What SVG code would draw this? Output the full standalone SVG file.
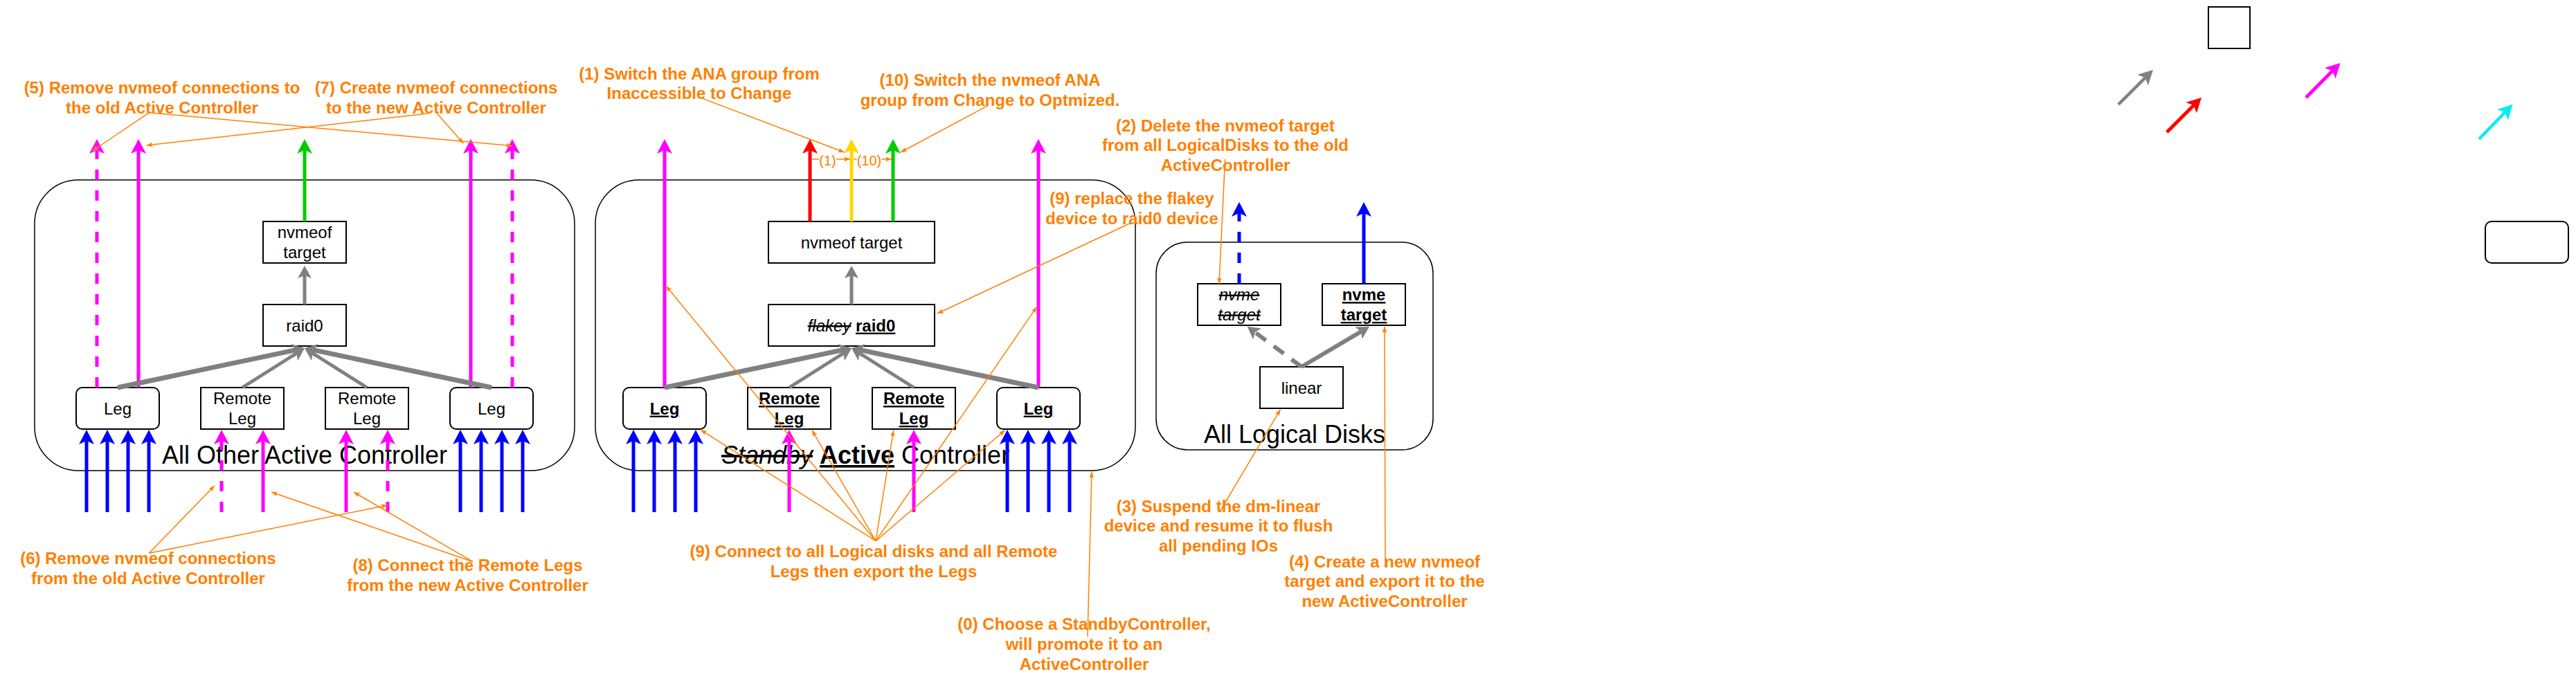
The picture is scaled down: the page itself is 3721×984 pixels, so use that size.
<svg xmlns="http://www.w3.org/2000/svg" width="3721" height="984" viewBox="0 0 3721 984">
<style>
text{font-family:"Liberation Sans",Arial,Helvetica,sans-serif}
.box{fill:#fff;stroke:#000;stroke-width:2}
.cont{fill:#fff;stroke:#000;stroke-width:1.5}
.lbl{font-size:24px;fill:#000;text-anchor:middle}
.big{font-size:36px;fill:#000;text-anchor:middle}
.ann{font-size:24px;font-weight:bold;fill:#FF8000;text-anchor:middle}
.sm{font-size:20px;fill:#FF8000;text-anchor:middle}
.b{font-weight:bold;text-decoration:underline}
.s{font-style:italic;text-decoration:line-through}
.e{fill:none;stroke-linecap:butt}
.blue{stroke:#0000FF;stroke-width:5;marker-end:url(#mBlue)}
.mag{stroke:#FF00FF;stroke-width:5;marker-end:url(#mMag)}
.red{stroke:#FF0000;stroke-width:5;marker-end:url(#mRed)}
.yel{stroke:#FFD700;stroke-width:5;marker-end:url(#mYel)}
.grn{stroke:#00CC00;stroke-width:5;marker-end:url(#mGrn)}
.cyn{stroke:#00EEEE;stroke-width:4.5;marker-end:url(#mCyn)}
.gl{stroke:#808080;stroke-width:4.5;marker-end:url(#mGl)}
.dash{stroke-dasharray:15 15}
.grey{stroke:#808080;marker-end:url(#mGrey)}
.or{stroke:#FF8000;stroke-width:1.5;marker-end:url(#mOr)}
</style>
<defs>
<marker id="mBlue" viewBox="0 0 21 22" refX="5" refY="11" markerWidth="21" markerHeight="22" markerUnits="userSpaceOnUse" orient="auto"><path d="M0,0 L21,11 L0,22 L5,11 Z" fill="#0000FF"/></marker>
<marker id="mMag" viewBox="0 0 21 22" refX="5" refY="11" markerWidth="21" markerHeight="22" markerUnits="userSpaceOnUse" orient="auto"><path d="M0,0 L21,11 L0,22 L5,11 Z" fill="#FF00FF"/></marker>
<marker id="mRed" viewBox="0 0 21 22" refX="5" refY="11" markerWidth="21" markerHeight="22" markerUnits="userSpaceOnUse" orient="auto"><path d="M0,0 L21,11 L0,22 L5,11 Z" fill="#FF0000"/></marker>
<marker id="mYel" viewBox="0 0 21 22" refX="5" refY="11" markerWidth="21" markerHeight="22" markerUnits="userSpaceOnUse" orient="auto"><path d="M0,0 L21,11 L0,22 L5,11 Z" fill="#FFD700"/></marker>
<marker id="mGrn" viewBox="0 0 21 22" refX="5" refY="11" markerWidth="21" markerHeight="22" markerUnits="userSpaceOnUse" orient="auto"><path d="M0,0 L21,11 L0,22 L5,11 Z" fill="#00CC00"/></marker>
<marker id="mCyn" viewBox="0 0 21 22" refX="5" refY="11" markerWidth="21" markerHeight="22" markerUnits="userSpaceOnUse" orient="auto"><path d="M0,0 L21,11 L0,22 L5,11 Z" fill="#00EEEE"/></marker>
<marker id="mGl" viewBox="0 0 21 22" refX="5" refY="11" markerWidth="21" markerHeight="22" markerUnits="userSpaceOnUse" orient="auto"><path d="M0,0 L21,11 L0,22 L5,11 Z" fill="#808080"/></marker>
<marker id="mGrey" viewBox="0 0 18 20" refX="4" refY="10" markerWidth="18" markerHeight="20" markerUnits="userSpaceOnUse" orient="auto"><path d="M0,0 L18,10 L0,20 L4,10 Z" fill="#808080"/></marker>
<marker id="mOr" viewBox="0 0 9 7" refX="9" refY="3.5" markerWidth="9" markerHeight="7" markerUnits="userSpaceOnUse" orient="auto"><path d="M0,0 L9,3.5 L0,7 L2,3.5 Z" fill="#FF8000"/></marker>
</defs>
<rect x="0" y="0" width="3721" height="984" fill="#fff"/>

<g id="container-other-active">
<rect class="cont" x="50" y="260" width="780" height="420" rx="63" ry="63"/>
<text class="big" x="440" y="670">All Other Active Controller</text>
</g>
<g id="container-standby-active">
<rect class="cont" x="860" y="260" width="780" height="420" rx="63" ry="63"/>
<text class="big" x="1250" y="670"><tspan class="s">Standby</tspan> <tspan class="b">Active</tspan> Controller</text>
</g>
<g id="container-logical-disks">
<rect class="cont" x="1670" y="350" width="400" height="300" rx="45" ry="45"/>
<text class="big" x="1870" y="639.6">All Logical Disks</text>
</g>

<g id="l-target"><rect class="box" x="380" y="320" width="120" height="60"/><text class="lbl" x="440" y="344.2">nvmeof<tspan x="440" y="373">target</tspan></text></g>
<g id="l-raid0"><rect class="box" x="380" y="440" width="120" height="60"/><text class="lbl" x="440" y="478.6">raid0</text></g>
<g id="l-leg1"><rect class="box" x="110" y="560" width="120" height="60" rx="9"/><text class="lbl" x="170" y="598.6">Leg</text></g>
<g id="l-rleg1"><rect class="box" x="290" y="560" width="120" height="60"/><text class="lbl" x="350" y="584.2">Remote<tspan x="350" y="613">Leg</tspan></text></g>
<g id="l-rleg2"><rect class="box" x="470" y="560" width="120" height="60"/><text class="lbl" x="530" y="584.2">Remote<tspan x="530" y="613">Leg</tspan></text></g>
<g id="l-leg2"><rect class="box" x="650" y="560" width="120" height="60" rx="9"/><text class="lbl" x="710" y="598.6">Leg</text></g>

<g id="m-target"><rect class="box" x="1110" y="320" width="240" height="60"/><text class="lbl" x="1230" y="358.6">nvmeof target</text></g>
<g id="m-raid0"><rect class="box" x="1110" y="440" width="240" height="60"/><text class="lbl" x="1230" y="478.6"><tspan class="s">flakey</tspan> <tspan class="b">raid0</tspan></text></g>
<g id="m-leg1"><rect class="box" x="900" y="560" width="120" height="60" rx="9"/><text class="lbl" x="960" y="598.6"><tspan class="b">Leg</tspan></text></g>
<g id="m-rleg1"><rect class="box" x="1080" y="560" width="120" height="60"/><text class="lbl" x="1140" y="584.2"><tspan class="b">Remote</tspan><tspan class="b" x="1140" y="613">Leg</tspan></text></g>
<g id="m-rleg2"><rect class="box" x="1260" y="560" width="120" height="60"/><text class="lbl" x="1320" y="584.2"><tspan class="b">Remote</tspan><tspan class="b" x="1320" y="613">Leg</tspan></text></g>
<g id="m-leg2"><rect class="box" x="1440" y="560" width="120" height="60" rx="9"/><text class="lbl" x="1500" y="598.6"><tspan class="b">Leg</tspan></text></g>

<g id="d-old-target"><rect class="box" x="1730" y="410" width="120" height="60"/><text class="lbl" x="1790" y="434.2"><tspan class="s">nvme</tspan><tspan class="s" x="1790" y="463">target</tspan></text></g>
<g id="d-new-target"><rect class="box" x="1910" y="410" width="120" height="60"/><text class="lbl" x="1970" y="434.2"><tspan class="b">nvme</tspan><tspan class="b" x="1970" y="463">target</tspan></text></g>
<g id="d-linear"><rect class="box" x="1820" y="530" width="120" height="60"/><text class="lbl" x="1880" y="568.6">linear</text></g>

<g id="loose-square"><rect class="box" x="3190" y="10" width="60" height="60"/></g>
<g id="loose-rounded"><rect class="box" x="3590" y="320" width="120" height="60" rx="9"/></g>

<g id="note-5"><text class="ann" x="234" y="135.3">(5) Remove nvmeof connections to<tspan x="234" y="164">the old Active Controller</tspan></text></g>
<g id="note-7"><text class="ann" x="630" y="135.3">(7) Create nvmeof connections<tspan x="630" y="164">to the new Active Controller</tspan></text></g>
<g id="note-1"><text class="ann" x="1010" y="114.6">(1) Switch the ANA group from<tspan x="1010" y="143.4">Inaccessible to Change</tspan></text></g>
<g id="note-10"><text class="ann" x="1430" y="124.4">(10) Switch the nvmeof ANA<tspan x="1430" y="153.2">group from Change to Optmized.</tspan></text></g>
<g id="note-2"><text class="ann" x="1770" y="189.6">(2) Delete the nvmeof target<tspan x="1770" y="218.4">from all LogicalDisks to the old</tspan><tspan x="1770" y="247.2">ActiveController</tspan></text></g>
<g id="note-9r"><text class="ann" x="1635" y="295.3">(9) replace the flakey<tspan x="1635" y="324.1">device to raid0 device</tspan></text></g>
<g id="note-6"><text class="ann" x="214" y="815.3">(6) Remove nvmeof connections<tspan x="214" y="844.1">from the old Active Controller</tspan></text></g>
<g id="note-8"><text class="ann" x="675.5" y="825.3">(8) Connect the Remote Legs<tspan x="675.5" y="854.1">from the new Active Controller</tspan></text></g>
<g id="note-9c"><text class="ann" x="1262" y="805.3">(9) Connect to all Logical disks and all Remote<tspan x="1262" y="834.1">Legs then export the Legs</tspan></text></g>
<g id="note-3"><text class="ann" x="1760" y="739.6">(3) Suspend the dm-linear<tspan x="1760" y="768.4">device and resume it to flush</tspan><tspan x="1760" y="797.2">all pending IOs</tspan></text></g>
<g id="note-4"><text class="ann" x="2000" y="819.6">(4) Create a new nvmeof<tspan x="2000" y="848.4">target and export it to the</tspan><tspan x="2000" y="877.2">new ActiveController</tspan></text></g>
<g id="note-0"><text class="ann" x="1566" y="910.3">(0) Choose a StandbyController,<tspan x="1566" y="939.1">will promote it to an</tspan><tspan x="1566" y="967.9">ActiveController</tspan></text></g>

<g id="connectors">
<!-- left container -->
<line class="e blue" x1="125" y1="740" x2="125" y2="637"/>
<line class="e blue" x1="155" y1="740" x2="155" y2="637"/>
<line class="e blue" x1="185" y1="740" x2="185" y2="637"/>
<line class="e blue" x1="215" y1="740" x2="215" y2="637"/>
<line class="e blue" x1="665" y1="740" x2="665" y2="637"/>
<line class="e blue" x1="695" y1="740" x2="695" y2="637"/>
<line class="e blue" x1="725" y1="740" x2="725" y2="637"/>
<line class="e blue" x1="755" y1="740" x2="755" y2="637"/>
<line class="e mag dash" x1="320" y1="740" x2="320" y2="637"/>
<line class="e mag" x1="380" y1="740" x2="380" y2="637"/>
<line class="e mag" x1="500" y1="740" x2="500" y2="637"/>
<line class="e mag dash" x1="560" y1="740" x2="560" y2="637"/>
<line class="e mag dash" x1="140" y1="560" x2="140" y2="217"/>
<line class="e mag" x1="200" y1="560" x2="200" y2="217"/>
<line class="e mag" x1="680" y1="560" x2="680" y2="217"/>
<line class="e mag dash" x1="740" y1="560" x2="740" y2="217"/>
<line class="e grn" x1="440" y1="320" x2="440" y2="217"/>
<line class="e grey" stroke-width="5" x1="440" y1="440" x2="440" y2="398"/>
<line class="e grey" stroke-width="7" x1="170" y1="560" x2="426.3" y2="505.9"/>
<line class="e grey" stroke-width="5" x1="350" y1="560" x2="428.2" y2="510.5"/>
<line class="e grey" stroke-width="5" x1="530" y1="560" x2="451.8" y2="510.5"/>
<line class="e grey" stroke-width="7" x1="710" y1="560" x2="453.7" y2="505.9"/>
<!-- middle container -->
<line class="e blue" x1="915" y1="740" x2="915" y2="637"/>
<line class="e blue" x1="945" y1="740" x2="945" y2="637"/>
<line class="e blue" x1="975" y1="740" x2="975" y2="637"/>
<line class="e blue" x1="1005" y1="740" x2="1005" y2="637"/>
<line class="e blue" x1="1455" y1="740" x2="1455" y2="637"/>
<line class="e blue" x1="1485" y1="740" x2="1485" y2="637"/>
<line class="e blue" x1="1515" y1="740" x2="1515" y2="637"/>
<line class="e blue" x1="1545" y1="740" x2="1545" y2="637"/>
<line class="e mag" x1="1140" y1="740" x2="1140" y2="637"/>
<line class="e mag" x1="1320" y1="740" x2="1320" y2="637"/>
<line class="e mag" x1="960" y1="560" x2="960" y2="217"/>
<line class="e mag" x1="1500" y1="560" x2="1500" y2="217"/>
<line class="e red" x1="1170" y1="320" x2="1170" y2="217"/>
<line class="e yel" x1="1230" y1="320" x2="1230" y2="217"/>
<line class="e grn" x1="1290" y1="320" x2="1290" y2="217"/>
<line class="e grey" stroke-width="5" x1="1230" y1="440" x2="1230" y2="398"/>
<line class="e grey" stroke-width="7" x1="960" y1="560" x2="1216.3" y2="505.9"/>
<line class="e grey" stroke-width="5" x1="1140" y1="560" x2="1218.2" y2="510.5"/>
<line class="e grey" stroke-width="5" x1="1320" y1="560" x2="1241.8" y2="510.5"/>
<line class="e grey" stroke-width="7" x1="1500" y1="560" x2="1243.7" y2="505.9"/>
<!-- logical disks -->
<line class="e blue dash" x1="1790" y1="410" x2="1790" y2="308"/>
<line class="e blue" x1="1970" y1="410" x2="1970" y2="308"/>
<line class="e grey" stroke-width="6" stroke-dasharray="18 14" x1="1880" y1="530" x2="1812.9" y2="480.1"/>
<line class="e grey" stroke-width="6" x1="1880" y1="530" x2="1966" y2="479.2"/>
<!-- loose arrows -->
<line class="e gl" x1="3060" y1="151" x2="3098.7" y2="112.3"/>
<line class="e red" stroke-width="4.5" x1="3130" y1="191" x2="3168.7" y2="152.3"/>
<line class="e mag" stroke-width="4.5" x1="3331" y1="141" x2="3369.3" y2="102.3"/>
<line class="e cyn" x1="3581" y1="201" x2="3618.4" y2="162.3"/>
<!-- small labelled arrows -->
<line class="e or" x1="1173" y1="230" x2="1228" y2="230"/>
<line class="e or" x1="1233" y1="230" x2="1288" y2="230"/>
<rect x="1183" y="221" width="25" height="23" fill="#fff"/>
<text class="sm" x="1195.5" y="239">(1)</text>
<rect x="1237.5" y="221" width="36" height="23" fill="#fff"/>
<text class="sm" x="1255.5" y="239">(10)</text>
<!-- annotation arrows -->
<line class="e or" x1="215.7" y1="162.7" x2="133.5" y2="218"/>
<line class="e or" x1="215.7" y1="162.7" x2="740" y2="210.7"/>
<line class="e or" x1="618" y1="164" x2="211.7" y2="210"/>
<line class="e or" x1="631.4" y1="164" x2="669.4" y2="207.3"/>
<line class="e or" x1="1015" y1="142.4" x2="1219.5" y2="220"/>
<line class="e or" x1="1427" y1="152.7" x2="1301" y2="220"/>
<line class="e or" x1="1769.6" y1="230" x2="1761" y2="410"/>
<line class="e or" x1="1634.2" y1="321.7" x2="1354" y2="453"/>
<line class="e or" x1="1265" y1="781.7" x2="1012" y2="621"/>
<line class="e or" x1="1265" y1="781.7" x2="962" y2="413"/>
<line class="e or" x1="1265" y1="781.7" x2="1173" y2="621.7"/>
<line class="e or" x1="1265" y1="781.7" x2="1290.7" y2="621.7"/>
<line class="e or" x1="1265" y1="781.7" x2="1497.5" y2="443.6"/>
<line class="e or" x1="1265" y1="781.7" x2="1451.5" y2="621.7"/>
<line class="e or" x1="1571" y1="920" x2="1577" y2="681.7"/>
<line class="e or" x1="1761.6" y1="740" x2="1849.5" y2="591.7"/>
<line class="e or" x1="2001" y1="820" x2="2000" y2="472"/>
<line class="e or" x1="215.3" y1="799.3" x2="310" y2="701.7"/>
<line class="e or" x1="215.3" y1="799.3" x2="559.7" y2="730"/>
<line class="e or" x1="683" y1="811.7" x2="392" y2="711"/>
<line class="e or" x1="683" y1="811.7" x2="511" y2="711"/>
</g>
</svg>
